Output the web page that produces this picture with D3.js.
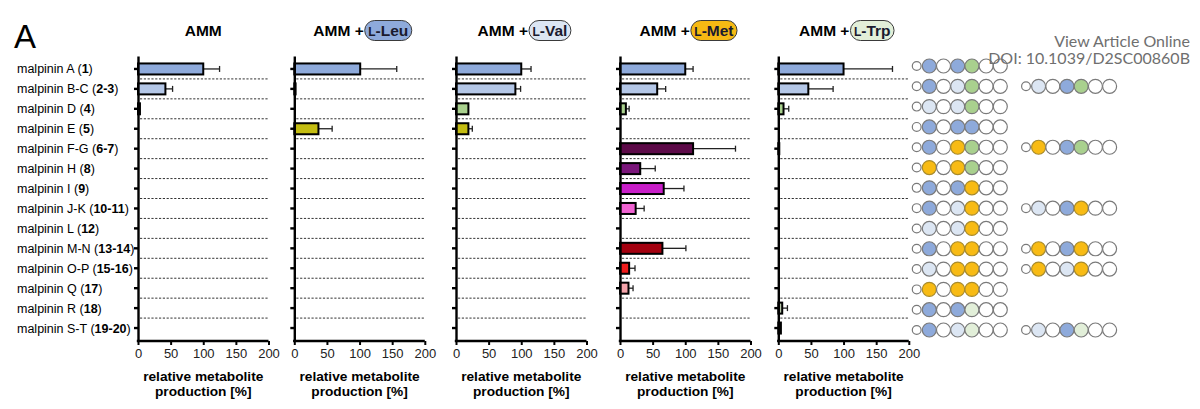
<!DOCTYPE html>
<html>
<head>
<meta charset="utf-8">
<script src="https://cdn.jsdelivr.net/npm/d3@7"></script>
<style>
  body { margin: 0; background: #fff; }
  svg { display: block; font-family: Arial, "Liberation Sans", sans-serif; }
</style>
</head>
<body>
<svg id="chart" width="1200" height="409"></svg>
<script>
// malpinin production per amino acid supplement

const rowNames = ["malpinin A", "malpinin B-C", "malpinin D", "malpinin E", "malpinin F-G",
  "malpinin H", "malpinin I", "malpinin J-K", "malpinin L", "malpinin M-N",
  "malpinin O-P", "malpinin Q", "malpinin R", "malpinin S-T"];
const rowIds = ["1", "2-3", "4", "5", "6-7", "8", "9", "10-11", "12", "13-14", "15-16", "17", "18", "19-20"];
const barColors = ["#8eaadb", "#b4c7e7", "#a9d18e", "#c4bd12", "#5c0a48", "#7a167a", "#c81ec8",
  "#f062d2", "#d8d8d8", "#a3000f", "#ee1c1c", "#f4a3aa", "#b9c9ab", "#c9d9bc"];

const supplements = ["", "Leu", "Val", "Met", "Trp"];
const pillColors = [null, "#8eaadb", "#dce6f3", "#f6b913", "#e2efd9"];
const xTicks = [0, 50, 100, 150, 200];

// values [%] and upper error per panel, rows in order of rowNames
const valuesAMM = [100, 42, 3, 0, 0, 0, 0, 0, 0, 0, 0, 0, 0, 0];
const errorsAMM = [25, 11, 0, 0, 0, 0, 0, 0, 0, 0, 0, 0, 0, 0];
const valuesLeu = [101, 2, 0, 37, 0, 0, 0, 0, 0, 0, 0, 0, 0, 0];
const errorsLeu = [56, 0, 0, 21, 0, 0, 0, 0, 0, 0, 0, 0, 0, 0];
const valuesVal = [100, 91, 19, 19, 0, 0, 0, 0, 0, 0, 0, 0, 0, 0];
const errorsVal = [15, 8, 0, 6, 0, 0, 0, 0, 0, 0, 0, 0, 0, 0];
const valuesMet = [100, 57, 9, 0, 112, 31, 67, 24, 0, 65, 14, 13, 0, 0];
const errorsMet = [12, 13, 5, 0, 65, 23, 31, 13, 0, 36, 9, 7, 0, 0];
const valuesTrp = [100, 46, 8, 0, 1.5, 0, 0, 0, 0, 0, 0, 0, 6, 4];
const errorsTrp = [75, 38, 8, 0, 0, 0, 0, 0, 0, 0, 0, 0, 8, 0];

const panelValues = [valuesAMM, valuesLeu, valuesVal, valuesMet, valuesTrp];
const panelErrors = [errorsAMM, errorsLeu, errorsVal, errorsMet, errorsTrp];

// peptide chains: B = Leu, V = Val, O = Met, G = Ile, T = Trp, W = other
const chainsMain = ["BWBGWW", "BWVGWW", "VWVGWW", "BWBBWW", "BWOGWW", "OWOGWW", "BWBOWW",
  "BWVOWW", "VWVOWW", "BWOOWW", "VWOOWW", "OWOOWW", "BWBTWW", "BWVTWW"];
const chainsAlt = [null, "VWBGWW", null, null, "OWBGWW", null, null,
  "VWBOWW", null, "OWBOWW", "OWVOWW", null, null, "VWBTWW"];
const residueColors = { B: "#8eaadb", V: "#dce6f3", O: "#f8bb14", G: "#a9d08e", T: "#e2efd9", W: "#ffffff" };

const svg = d3.select("#chart");

const panelLeft = [138, 294.3, 456, 620, 778.3];
const panelWidth = 130.5;

const y = d3.scaleBand()
  .domain(rowNames)
  .range([56, 341])
  .paddingInner(0)
  .paddingOuter(0.15);
const barH = 11;

// big panel letter
svg.append("text")
  .attr("x", 14)
  .attr("y", 48)
  .style("font-size", "33px")
  .text("A");

// row labels
const rowLabel = svg.append("g")
  .style("font-size", "12.5px")
  .selectAll("text")
  .data(rowNames)
  .join("text")
    .attr("x", 17)
    .attr("y", d => y(d) + y.bandwidth() / 2 + 4.5);
rowLabel.append("tspan").text(d => d + " (");
rowLabel.append("tspan").style("font-weight", "bold").text((d, i) => rowIds[i]);
rowLabel.append("tspan").text(")");

panelLeft.forEach((left, p) => {
  const x = d3.scaleLinear().domain([0, 200]).range([0, panelWidth]);
  const g = svg.append("g").attr("transform", `translate(${left},0)`);

  // dashed separators between rows
  g.append("g")
    .selectAll("line")
    .data(rowNames.slice(1))
    .join("line")
      .attr("x1", 2)
      .attr("x2", x(200))
      .attr("y1", d => y(d))
      .attr("y2", d => y(d))
      .attr("stroke", "#333")
      .attr("stroke-width", 1)
      .attr("stroke-dasharray", "2.2,1.6");

  // bars
  const vals = panelValues[p];
  const errs = panelErrors[p];
  const rows = rowNames.map((n, i) => ({ n, v: vals[i], e: errs[i], c: barColors[i] }))
    .filter(d => d.v > 0);

  g.append("g")
    .selectAll("g")
    .data(rows.filter(d => d.e > 0))
    .join("g")
    .each(function(d) {
      const cy = y(d.n) + y.bandwidth() / 2;
      const s = d3.select(this);
      s.append("line")
        .attr("x1", x(d.v)).attr("x2", x(d.v + d.e))
        .attr("y1", cy).attr("y2", cy)
        .attr("stroke", "#222").attr("stroke-width", 1.3);
      s.append("line")
        .attr("x1", x(d.v + d.e)).attr("x2", x(d.v + d.e))
        .attr("y1", cy - 3).attr("y2", cy + 3)
        .attr("stroke", "#222").attr("stroke-width", 1.3);
    });

  g.append("g")
    .selectAll("rect")
    .data(rows)
    .join("rect")
      .attr("x", x(0))
      .attr("y", d => y(d.n) + (y.bandwidth() - barH) / 2)
      .attr("width", d => x(d.v))
      .attr("height", barH)
      .attr("fill", d => d.c)
      .attr("stroke", "#000")
      .attr("stroke-width", 2);

  // y axis
  const yAxis = g.append("g")
    .call(d3.axisLeft(y).tickSize(4).tickSizeOuter(0).tickFormat(""));
  yAxis.select(".domain").attr("stroke-width", 2.4);
  yAxis.selectAll(".tick line").attr("stroke-width", 2.4);

  // x axis
  const xAxis = g.append("g")
    .attr("transform", "translate(0,341)")
    .call(d3.axisBottom(x).tickValues(xTicks).tickSize(4).tickSizeOuter(0).tickPadding(4));
  xAxis.select(".domain").attr("stroke-width", 2.4).attr("d", `M-1.2,0H${x(200)}`);
  xAxis.selectAll(".tick line").attr("stroke-width", 2);
  xAxis.selectAll(".tick text")
    .style("font-size", "13px")
    .style("font-family", "Arial, 'Liberation Sans', sans-serif")
    .attr("fill", "#222");

  // axis title
  const cx = x(100);
  g.append("text")
    .attr("x", cx).attr("y", 381)
    .attr("text-anchor", "middle")
    .style("font-size", "13.7px").style("font-weight", "bold")
    .text("relative metabolite");
  g.append("text")
    .attr("x", cx).attr("y", 396)
    .attr("text-anchor", "middle")
    .style("font-size", "13.7px").style("font-weight", "bold")
    .text("production [%]");

  // panel title
  const title = g.append("g");
  const amm = title.append("text")
    .attr("y", 36)
    .style("font-size", "15.5px").style("font-weight", "bold")
    .text(p === 0 ? "AMM" : "AMM +");
  let total = amm.node().getComputedTextLength();
  if (p > 0) {
    const pill = title.append("g");
    const rect = pill.append("rect");
    const pt = pill.append("text")
      .attr("y", 36)
      .style("font-weight", "bold")
      .attr("fill", "#1a1a2e");
    pt.append("tspan").style("font-size", "12px").text("L");
    pt.append("tspan").style("font-size", "15.5px").text("-" + supplements[p]);
    const tw = pt.node().getComputedTextLength();
    const pw = tw + 7;
    const px = total + 1;
    rect.attr("x", px).attr("y", 20.5).attr("width", pw).attr("height", 20)
      .attr("rx", 10)
      .attr("fill", pillColors[p])
      .attr("stroke", "#3a3a3a").attr("stroke-width", 1);
    pt.attr("x", px + 3.5);
    total = px + pw;
  }
  title.attr("transform", `translate(${cx + (p === 0 ? 0 : 3) - total / 2},0)`);
});

// peptide chain diagrams
const cy = d3.scalePoint().domain(rowNames).range([66, 330]);
const chainStarts = [916.7, 1026];

function drawChain(g, code, x0, yc) {
  g.append("circle")
    .attr("cx", x0).attr("cy", yc).attr("r", 4.4)
    .attr("fill", "#fff").attr("stroke", "#7a7a7a").attr("stroke-width", 1.2);
  code.split("").forEach((k, i) => {
    g.append("circle")
      .attr("cx", x0 + 12.6 + i * 14.2)
      .attr("cy", yc)
      .attr("r", 7)
      .attr("fill", residueColors[k])
      .attr("stroke", k === "O" ? "#a88b2c" : "#7a7a7a")
      .attr("stroke-width", 1.2);
  });
}

const chains = svg.append("g");
rowNames.forEach((n, i) => {
  drawChain(chains, chainsMain[i], chainStarts[0], cy(n));
  if (chainsAlt[i]) drawChain(chains, chainsAlt[i], chainStarts[1], cy(n));
});

// publisher watermark
const wm = svg.append("g")
  .attr("text-anchor", "end")
  .attr("fill", "#6f6f6f")
  .style("font-family", "Lato, sans-serif")
  .style("font-size", "16px");
wm.append("text").attr("x", 1190).attr("y", 47).text("View Article Online");
wm.append("text").attr("x", 1190).attr("y", 64).text("DOI: 10.1039/D2SC00860B");
</script>
</body>
</html>
